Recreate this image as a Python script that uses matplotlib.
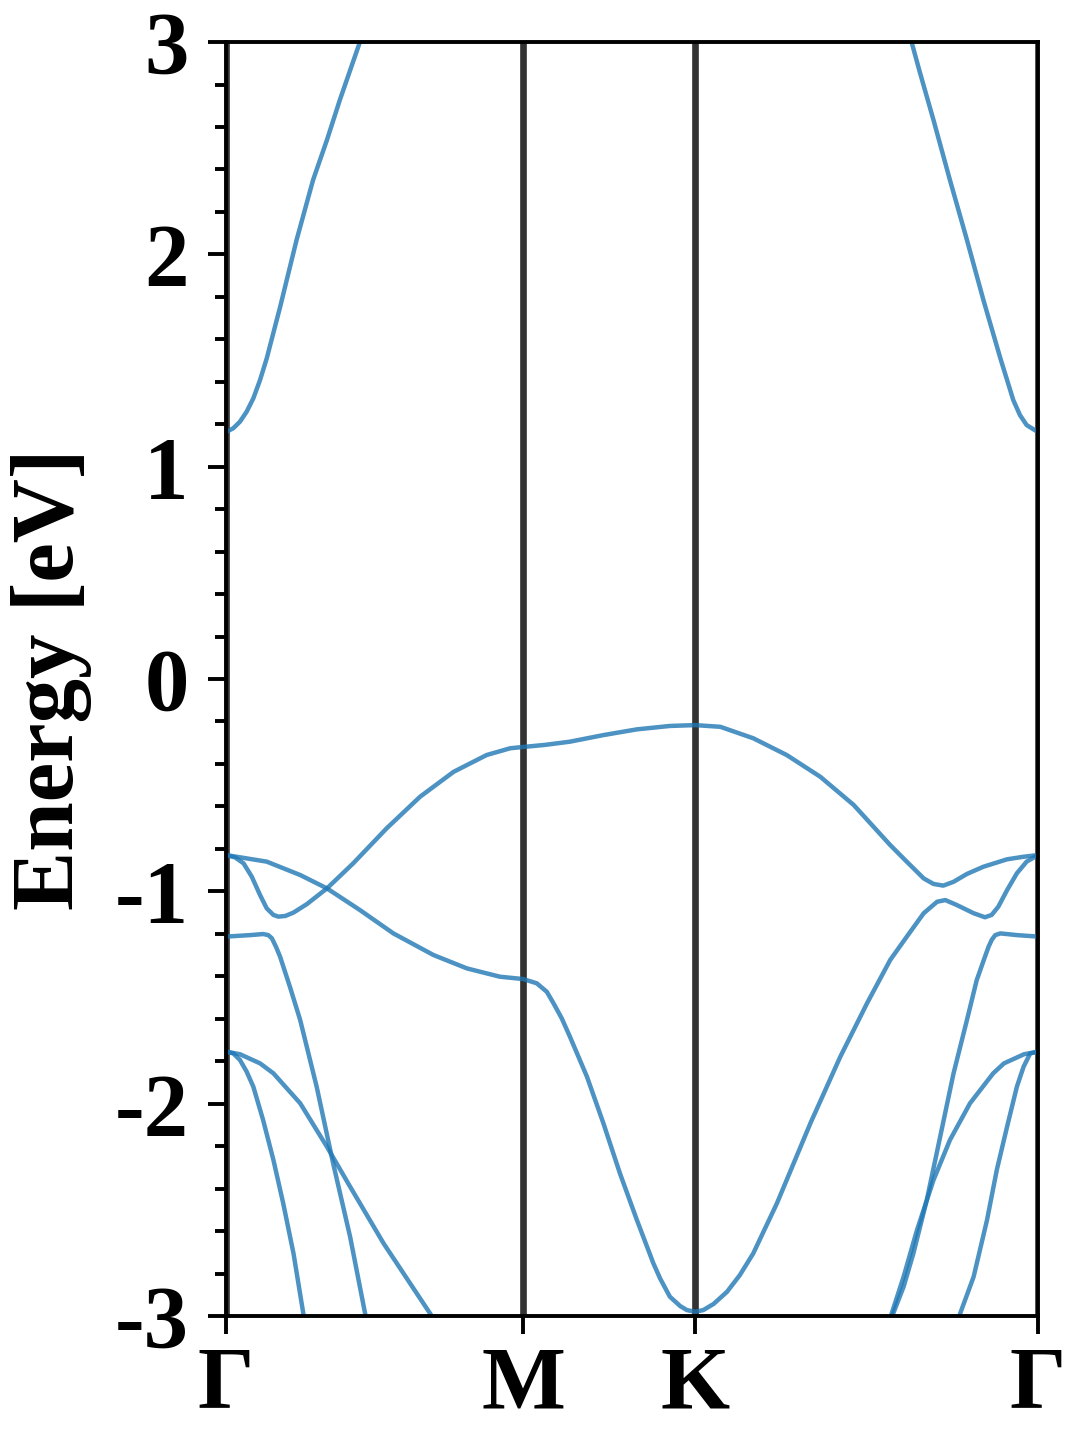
import matplotlib
matplotlib.use("Agg")
import matplotlib.pyplot as plt
from matplotlib.ticker import MultipleLocator

# --- band data (k path length, energy in eV) ---

kpoint_pos = [0.0, 0.577, 0.911, 1.577]
kpoint_labels = ['Γ', 'M', 'K', 'Γ']

# conduction band, Γ side and Γ' side
cb_left_k = [0.0, 0.014, 0.027, 0.040, 0.053, 0.066, 0.079, 0.105, 0.137, 0.169, 0.196,
             0.221, 0.260, 0.270]
cb_left_e = [1.163, 1.181, 1.212, 1.259, 1.322, 1.408, 1.510, 1.752, 2.068, 2.350, 2.539,
             2.727, 3.0, 3.05]
cb_right_k = [1.577, 1.555, 1.542, 1.529, 1.517, 1.504, 1.471, 1.439, 1.406, 1.374, 1.348,
              1.332, 1.325]
cb_right_e = [1.163, 1.196, 1.243, 1.314, 1.408, 1.510, 1.785, 2.068, 2.350, 2.633, 2.854,
              2.995, 3.04]

# top valence band (dips near Γ, flat across M-K)
vb_a_k = [0.0, 0.0175, 0.034, 0.050, 0.066, 0.079, 0.092, 0.1016, 0.115, 0.131, 0.157,
          0.196, 0.247, 0.312, 0.377, 0.442, 0.506, 0.552, 0.577, 0.620, 0.668, 0.733,
          0.798, 0.862, 0.911, 0.960, 1.024, 1.089, 1.154, 1.219, 1.290, 1.322, 1.355,
          1.374, 1.393, 1.413, 1.439, 1.471, 1.517, 1.549, 1.577]
vb_a_e = [-0.829, -0.840, -0.868, -0.931, -1.017, -1.080, -1.111, -1.119, -1.116, -1.100, -1.060,
          -0.986, -0.868, -0.703, -0.554, -0.437, -0.358, -0.326, -0.320, -0.310, -0.295, -0.264,
          -0.237, -0.221, -0.217, -0.225, -0.279, -0.358, -0.460, -0.593, -0.782, -0.860, -0.939,
          -0.965, -0.973, -0.955, -0.918, -0.884, -0.849, -0.837, -0.829]

# second valence band (down to -3 at K)
vb_b_k = [0.0, 0.079, 0.144, 0.196, 0.260, 0.325, 0.403, 0.468, 0.532, 0.577, 0.6035,
          0.623, 0.636, 0.652, 0.668, 0.701, 0.733, 0.765, 0.798, 0.830, 0.843, 0.862,
          0.882, 0.895, 0.911, 0.927, 0.947, 0.973, 0.998, 1.024, 1.070, 1.135, 1.193,
          1.245, 1.290, 1.322, 1.355, 1.381, 1.397, 1.419, 1.452, 1.474, 1.487, 1.500,
          1.517, 1.536, 1.555, 1.577]
vb_b_e = [-0.829, -0.860, -0.923, -0.986, -1.088, -1.198, -1.300, -1.363, -1.402, -1.413, -1.433,
          -1.473, -1.527, -1.598, -1.685, -1.873, -2.093, -2.328, -2.548, -2.752, -2.823, -2.909,
          -2.953, -2.972, -2.980, -2.972, -2.943, -2.886, -2.807, -2.705, -2.469, -2.092, -1.779,
          -1.527, -1.323, -1.214, -1.103, -1.049, -1.041, -1.064, -1.103, -1.122, -1.111, -1.072,
          -0.994, -0.915, -0.860, -0.829]

# band starting at -1.21 eV at Γ
vb_c_left_k = [0.0, 0.047, 0.072, 0.082, 0.089, 0.097, 0.105, 0.124, 0.144, 0.176, 0.208,
               0.241, 0.270, 0.280]
vb_c_left_e = [-1.213, -1.206, -1.201, -1.206, -1.221, -1.261, -1.308, -1.449, -1.606, -1.920, -2.281,
               -2.627, -2.987, -3.10]
vb_c_right_k = [1.577, 1.536, 1.504, 1.494, 1.487, 1.481, 1.474, 1.458, 1.439, 1.413, 1.387,
                1.361, 1.335, 1.316, 1.296, 1.290]
vb_c_right_e = [-1.213, -1.206, -1.198, -1.206, -1.229, -1.261, -1.308, -1.418, -1.606, -1.857, -2.156,
                -2.454, -2.705, -2.862, -2.987, -3.05]

# pair of bands starting at -1.76 eV at Γ (steep and shallow)
vb_d1_left_k = [0.0, 0.014, 0.027, 0.040, 0.053, 0.072, 0.092, 0.111, 0.131, 0.150, 0.155]
vb_d1_left_e = [-1.755, -1.763, -1.794, -1.849, -1.920, -2.077, -2.265, -2.469, -2.705, -2.987, -3.06]
vb_d2_left_k = [0.0, 0.027, 0.066, 0.092, 0.144, 0.196, 0.241, 0.306, 0.396, 0.410]
vb_d2_left_e = [-1.755, -1.767, -1.810, -1.857, -1.998, -2.203, -2.391, -2.658, -2.987, -3.04]
vb_d1_right_k = [1.577, 1.562, 1.549, 1.536, 1.517, 1.497, 1.478, 1.452, 1.426, 1.421]
vb_d1_right_e = [-1.755, -1.763, -1.826, -1.920, -2.108, -2.312, -2.548, -2.815, -2.987, -3.03]
vb_d2_right_k = [1.577, 1.550, 1.511, 1.490, 1.445, 1.406, 1.374, 1.342, 1.316, 1.293, 1.288]
vb_d2_right_e = [-1.755, -1.767, -1.810, -1.857, -1.998, -2.171, -2.360, -2.595, -2.815, -2.987, -3.03]

bands = [
    (cb_left_k, cb_left_e), (cb_right_k, cb_right_e),
    (vb_a_k, vb_a_e), (vb_b_k, vb_b_e),
    (vb_c_left_k, vb_c_left_e), (vb_c_right_k, vb_c_right_e),
    (vb_d1_left_k, vb_d1_left_e), (vb_d2_left_k, vb_d2_left_e),
    (vb_d1_right_k, vb_d1_right_e), (vb_d2_right_k, vb_d2_right_e),
]

plt.rcParams['font.family'] = ['Liberation Serif', 'DejaVu Serif']
plt.rcParams['font.weight'] = 'bold'
plt.rcParams['axes.unicode_minus'] = False

fig = plt.figure(figsize=(10.8, 14.4), dpi=100)
ax = fig.add_axes([0.2093, 0.0861, 0.7518, 0.8847])

# high-symmetry lines
for k in kpoint_pos:
    ax.axvline(k, color='#333333', lw=4.8, zorder=1)

for k, e in bands:
    ax.plot(k, e, color='C0', alpha=0.8, lw=3.2, zorder=2,
            solid_joinstyle='round', solid_capstyle='round')

ax.set_xlim(kpoint_pos[0], kpoint_pos[-1])
ax.set_ylim(-3, 3)
ax.set_xticks(kpoint_pos)
ax.set_xticklabels(kpoint_labels)
ax.yaxis.set_major_locator(MultipleLocator(1))
ax.yaxis.set_minor_locator(MultipleLocator(0.2))

ax.tick_params(axis='both', which='major', labelsize=64, width=2.8, length=13, direction='out')
ax.tick_params(axis='y', which='major', pad=14)
ax.tick_params(axis='x', which='major', pad=8)
ax.tick_params(axis='y', which='minor', width=2.8, length=8, direction='out')
for s in ax.spines.values():
    s.set_linewidth(2.8)
    s.set_zorder(3)

ax.set_ylabel('Energy [eV]', fontsize=64, fontweight='bold', labelpad=16)

fig.savefig('out.png', dpi=100)
